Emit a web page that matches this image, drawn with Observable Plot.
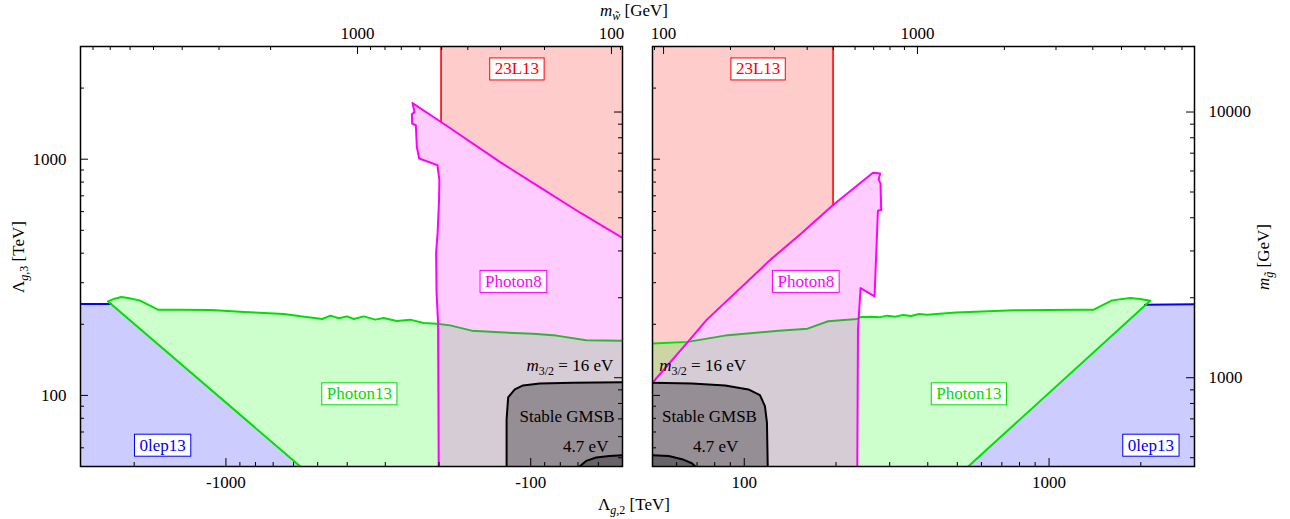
<!DOCTYPE html>
<html><head><meta charset="utf-8">
<script src="https://cdn.jsdelivr.net/npm/d3@7"></script>
<script src="https://cdn.jsdelivr.net/npm/@observablehq/plot@0.6"></script>
<style>
html,body{margin:0;padding:0;background:#fff;}
#wrap{position:relative;width:1290px;height:519px;font-family:"Liberation Serif",serif;font-size:17px;color:#000;overflow:hidden;}
#wrap svg text{font-family:"Liberation Serif",serif !important;font-size:17px;}
.lab{position:absolute;white-space:nowrap;line-height:1;transform:translate(-50%,-50%);}
.rot{transform:translate(-50%,-50%) rotate(-90deg);}
.lab sub{font-size:12px;vertical-align:-4px;line-height:0;}
</style></head><body><div id="wrap"></div><script>
// ---- axis ticks ----
const lam3Major = [100, 1000];
const lam3Minor = [50, 60, 70, 80, 90, 200, 300, 400, 500, 600, 700, 800, 900, 2000, 3000];
const lam2Major = [100, 1000];
const lam2Minor = [50, 60, 70, 80, 90, 200, 300, 400, 500, 600, 700, 800, 900, 2000, 3000];
const mgMajor = [1000, 10000];
const mgMinor = [500, 600, 700, 800, 900, 2000, 3000, 4000, 5000, 6000, 7000, 8000, 9000];
const mwMajor = [100, 1000];
const mwMinor = [90, 200, 300, 400, 500, 600, 700, 800, 900, 2000, 3000, 4000, 5000, 6000, 7000, 8000, 9000];
// secondary-axis relations
const mgToLam3 = m => 118.8 * Math.pow(m / 1000, 1.1249);
const mwToLam2 = m => Math.pow((m + 48.2) / 2.517, 1 / 1.02);

// ---- left panel (Λg,2 < 0) ----
const leftBlue = [[-3000,244],[-2382,244],[-570,50],[-3000,50]];
const leftBlueEdge = [[-3000,244],[-2382,244]];
const leftRed = [[-196.9,3000],[-196.9,1437],[-126.3,974],[-93.5,762],[-68.6,592],[-50,464],[-50,3000]];
const leftRedEdge = [[-196.9,3000],[-196.9,1437]];
const leftGreenTop = [[-2436,250],[-2317,256.7],[-2203,260.9],[-2095,258.4],[-1920,252.5],[-1672,230.6],[-1438,230.6],[-1119,229.9],[-871,225.5],[-645,221.2],[-568.6,216.1],[-483,210.7],[-453.8,217.6],[-426.4,212],[-400.4,216.1],[-380.8,210.7],[-353.2,216.1],[-323.5,209.3],[-303.9,212.8],[-274.8,206.6],[-248.5,209.3],[-224.9,202.6],[-203.3,201.2],[-183.9,197.9],[-156.2,188],[-126.3,184.9],[-98.3,182.6],[-82.4,179.1],[-65.8,171.1],[-50,170.2]];
const leftGreenFoot = [[-570,50]];
const leftPink = [[-200.4,50],[-201.4,203.2],[-203.7,272],[-204.4,401.3],[-202.1,487.4],[-199.9,671.4],[-199.4,815.6],[-202.4,943.4],[-232.3,1007],[-236.4,1127],[-238.2,1392],[-244.9,1414],[-245.4,1548],[-240.6,1583],[-244.3,1728],[-196.9,1437],[-126.3,974],[-93.5,762],[-68.6,592],[-50,464]];
const leftGmsb = [[-120,50],[-120,79.2],[-118.6,98.1],[-112.8,106],[-106,110.2],[-93.5,112.3],[-72.7,113.1],[-50,113.8]];
const leftInner = [[-69.2,50],[-65.8,52.8],[-61,54.6],[-55.2,55.4],[-50,55.8]];
const leftCorner = [[-50,50]];

// ---- right panel (Λg,2 > 0) ----
const rightBlue = [[2064,241.7],[3000,243],[3000,50],[543,50]];
const rightBlueEdge = [[2064,241.7],[3000,243]];
const rightRed = [[50,3000],[50,113.1],[64.9,166.9],[75.4,209.3],[121.7,374.8],[154.1,485.9],[195.6,639.5],[195.6,3000]];
const rightRedEdge = [[195.6,639.5],[195.6,3000]];
const rightGreenTop = [[50,165.7],[65.2,168.5],[86.4,179.1],[129.7,188],[161.3,191.7],[188.4,205.9],[234.6,210.7],[242.1,214.8],[261.1,215.5],[277.2,214],[294.4,217.6],[312.7,215.5],[332,219],[352.7,217],[374.6,221],[397.9,219.5],[494.9,224.6],[765.6,229.1],[1267,230.6],[1401,230.6],[1609,252.5],[1846,258.4],[1991,255.9],[2147,251.7]];
const rightGreenFoot = [[543,50]];
const rightPink = [[50,113.1],[64.9,166.9],[75.4,209.3],[121.7,374.8],[154.1,485.9],[195.6,639.5],[264.4,875.6],[279.3,870.6],[275.8,821.1],[279.9,789.6],[281.4,609.2],[274.5,605.1],[267.6,262.4],[240.8,284.7],[236.1,190],[234.9,50]];
const rightGmsb = [[50,113.1],[67.3,112.3],[86.6,110.2],[103.2,106],[112.6,100.3],[116.9,90.1],[118.7,76.7],[119.4,50]];
const rightInner = [[50,55.8],[56.5,55.4],[62.5,53.7],[67.3,51.6],[69.1,50]];
const rightCorner = [[50,50]];

// ---- labels ----
const regionNames = ["23L13", "Photon8", "Photon13", "0lep13"];
const regionColors = ["#ff0000", "#ff00ff", "#00dd00", "#0000ff"];
const leftLabelX = [-111, -114, -365, -1613];
const rightLabelX = [111, 159.2, 545.6, 2158];
const labelY = [2409, 303.6, 101.5, 61.5];
const noteTexts = ["m3/2 = 16 eV", "Stable GMSB", "4.7 eV"];
const leftNoteX = [-53.6, -76, -66];
const rightNoteX = [52.6, 76.9, 80.5];
const noteY = [133.2, 81, 60.8];

const W = 542, H = 420;
const ns = "http://www.w3.org/2000/svg";

function panel(sign, parts, labelX, noteX, opts) {
  const px = d => d[0], py = d => d[1];
  const poly = (pts, color, op) => Plot.line(pts, {x: px, y: py, fill: color, fillOpacity: op, stroke: "none", clip: true});
  const edge = (pts, color, w) => Plot.line(pts, {x: px, y: py, stroke: color, strokeWidth: w, clip: true, strokeLinejoin: "round"});
  const inDom = v => Math.abs(v) >= 49.9 && Math.abs(v) <= 3001;
  const greenPoly = sign < 0 ? parts.greenTop.concat(parts.corner, parts.greenFoot) : parts.greenTop.concat(parts.greenFoot, parts.corner);
  const greenEdge = sign < 0 ? parts.greenFoot.concat(parts.greenTop) : parts.greenTop.concat(parts.greenFoot);
  const marks = [
    poly(parts.blue, "#0000ff", 0.2),
    poly(parts.red, "#ff0000", 0.2),
    poly(greenPoly, "#00ff00", 0.2),
    edge(parts.blueEdge, "#0000ff", 2),
    edge(parts.redEdge, "#ff0000", 1.6),
    edge(greenEdge, "#00e000", 2),
    poly(parts.pink.concat(parts.corner), "#ff00ff", 0.2),
    edge(parts.pink, "#ff00ff", 2),
    poly(parts.gmsb.concat(parts.corner), "#000000", 0.3),
    edge(parts.gmsb, "#000000", 2),
    poly(parts.inner.concat(parts.corner), "#000000", 0.3),
    edge(parts.inner, "#000000", 2)
  ];
  regionNames.forEach((name, i) => {
    marks.push(Plot.text([name], {x: () => labelX[i], y: () => labelY[i], text: d => d, fill: regionColors[i]}));
  });
  noteTexts.forEach((t, i) => {
    marks.push(Plot.text([t], {x: () => noteX[i], y: () => noteY[i], text: d => d, fill: "black",
      textAnchor: i === 0 ? (sign < 0 ? "end" : "start") : "middle"}));
  });
  const yT = (vals, len, side) => Plot.tickY(vals, {y: d => d, stroke: "black", strokeWidth: 1,
    insetRight: side === "left" ? W - len : 0, insetLeft: side === "right" ? W - len : 0});
  const mgVals = v => v.map(mgToLam3).filter(inDom);
  const mwVals = v => v.map(m => sign * mwToLam2(m)).filter(inDom);
  const l2Vals = v => v.map(d => sign * d);
  const xT = (vals, len, side) => Plot.tickX(vals, {x: d => d, stroke: "black", strokeWidth: 1,
    insetBottom: side === "top" ? H - len : 0, insetTop: side === "bottom" ? H - len : 0});
  marks.push(
    yT(lam3Minor, 4, "left"), yT(lam3Major, 8, "left"),
    yT(mgVals(mgMinor), 4, "right"), yT(mgVals(mgMajor), 8, "right"),
    xT(l2Vals(lam2Minor), 4, "bottom"), xT(l2Vals(lam2Major), 8, "bottom"),
    xT(mwVals(mwMinor), 4, "top"), xT(mwVals(mwMajor), 8, "top"),
    Plot.text(lam2Major, {x: d => sign * d, text: d => (sign < 0 ? "-" : "") + d, frameAnchor: "bottom", lineAnchor: "top", dy: 9}),
    Plot.text(mwMajor, {x: m => sign * mwToLam2(m), text: d => String(d), frameAnchor: "top", lineAnchor: "bottom", dy: -8})
  );
  if (sign < 0) {
    marks.push(Plot.text(lam3Major, {y: d => d, text: d => String(d), frameAnchor: "left", textAnchor: "end", dx: -14}));
  } else {
    marks.push(Plot.text(mgMajor, {y: m => mgToLam3(m), text: d => String(d), frameAnchor: "right", textAnchor: "start", dx: 14}));
  }
  marks.push(Plot.frame({stroke: "black", strokeWidth: 1.5}));
  return Plot.plot({
    width: opts.width, height: 519,
    marginLeft: opts.ml, marginRight: opts.mr, marginTop: 46, marginBottom: 53,
    x: {type: "log", domain: sign < 0 ? [-3000, -50] : [50, 3000], axis: null},
    y: {type: "log", domain: [50, 3000], axis: null},
    style: {background: "transparent", overflow: "visible"},
    marks
  });
}

function decorate(svg) {
  svg.querySelectorAll("text").forEach(t => {
    const content = t.textContent;
    const idx = regionNames.indexOf(content);
    if (idx >= 0) {
      const b = t.getBBox();
      const r = document.createElementNS(ns, "rect");
      r.setAttribute("x", b.x - 5); r.setAttribute("y", b.y - 1.5);
      r.setAttribute("width", b.width + 10); r.setAttribute("height", b.height + 3);
      r.setAttribute("fill", "white"); r.setAttribute("stroke", regionColors[idx]); r.setAttribute("stroke-width", 1);
      if (t.getAttribute("transform")) r.setAttribute("transform", t.getAttribute("transform"));
      t.parentNode.insertBefore(r, t);
    } else if (content === noteTexts[0]) {
      while (t.firstChild) t.removeChild(t.firstChild);
      const a = document.createElementNS(ns, "tspan"); a.textContent = "m"; a.setAttribute("font-style", "italic");
      const b = document.createElementNS(ns, "tspan"); b.textContent = "3/2"; b.setAttribute("style", "font-size:12px"); b.setAttribute("dy", "4");
      const c = document.createElementNS(ns, "tspan"); c.textContent = " = 16 eV"; c.setAttribute("dy", "-4");
      t.appendChild(a); t.appendChild(b); t.appendChild(c);
    }
  });
}

const wrap = document.getElementById("wrap");
const left = panel(-1, {blue: leftBlue, blueEdge: leftBlueEdge, red: leftRed, redEdge: leftRedEdge,
  greenTop: leftGreenTop, greenFoot: leftGreenFoot, pink: leftPink, gmsb: leftGmsb, inner: leftInner, corner: leftCorner},
  leftLabelX, leftNoteX, {width: 640, ml: 80, mr: 18});
const right = panel(1, {blue: rightBlue, blueEdge: rightBlueEdge, red: rightRed, redEdge: rightRedEdge,
  greenTop: rightGreenTop, greenFoot: rightGreenFoot, pink: rightPink, gmsb: rightGmsb, inner: rightInner, corner: rightCorner},
  rightLabelX, rightNoteX, {width: 650, ml: 12, mr: 96});
[[left, 0], [right, 640]].forEach(([s, x]) => {
  s.style.position = "absolute"; s.style.left = x + "px"; s.style.top = "0px"; s.style.maxWidth = "none";
  wrap.appendChild(s);
  decorate(s);
});

const titles = [
  {html: "<i>m</i><sub><i>w̃</i></sub> [GeV]", x: 634, y: 10, rot: false},
  {html: "Λ<sub><i>g</i>,2</sub> [TeV]", x: 634, y: 504, rot: false},
  {html: "Λ<sub><i>g</i>,3</sub> [TeV]", x: 18, y: 257, rot: true},
  {html: "<i>m</i><sub><i>g̃</i></sub> [GeV]", x: 1263, y: 257, rot: true}
];
titles.forEach(t => {
  const d = document.createElement("div");
  d.className = "lab" + (t.rot ? " rot" : "");
  d.innerHTML = t.html;
  d.style.left = t.x + "px"; d.style.top = t.y + "px";
  wrap.appendChild(d);
});
</script></body></html>
